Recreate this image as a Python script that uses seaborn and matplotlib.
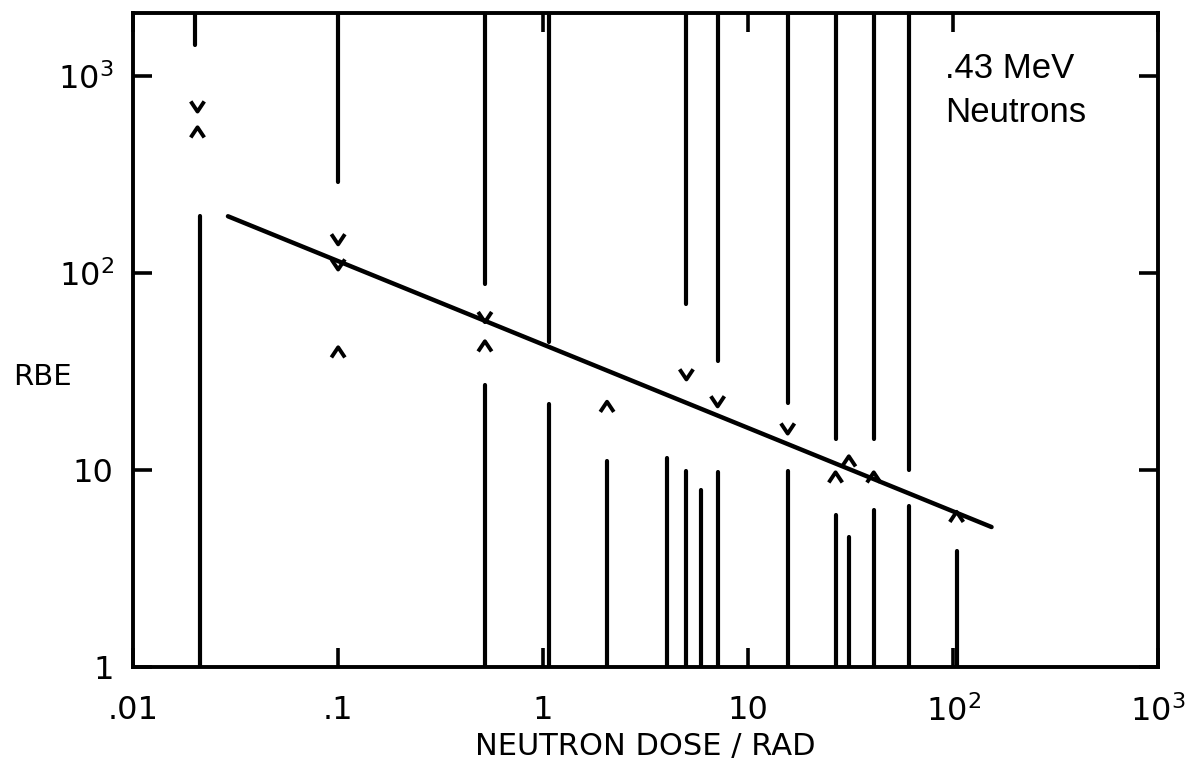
import matplotlib
matplotlib.use("Agg")
import matplotlib.pyplot as plt
from matplotlib.path import Path
import seaborn as sns

# bars hanging down from the top of the frame: dose and the RBE where they stop
upper_dose = [0.02, 0.1, 0.52, 1.07, 5.0, 7.1, 15.6, 26.7, 41, 61]
upper_rbe = [1450, 290, 88, 45, 70, 36, 22, 14.5, 14.4, 10]

# bars rising from RBE = 1: dose and the RBE where they stop
lower_dose = [0.0212, 0.52, 1.07, 2.05, 4.0, 5.0, 5.9, 7.1, 15.6, 26.7, 31, 41, 61, 104]
lower_rbe = [195, 27, 21.6, 11.1, 11.6, 9.9, 7.9, 9.8, 9.9, 5.9, 4.6, 6.3, 6.6, 3.9]

# lower limits (^) and upper limits (v)
min_dose = [0.0206, 0.1, 0.52, 2.05, 26.7, 31, 41, 104]
min_rbe = [520, 39.7, 42.6, 21, 9.2, 11.1, 9.2, 5.8]
max_dose = [0.0206, 0.1, 0.1, 0.52, 5.0, 7.1, 15.6]
max_rbe = [704, 149, 111, 60, 30.7, 22.4, 16.3]

# fitted line
fit_dose = [0.029, 154]
fit_rbe = [195, 5.15]

x_ticks = [0.01, 0.1, 1, 10, 100, 1000]
x_labels = [".01", ".1", "1", "10", r"$\mathregular{10^2}$", r"$\mathregular{10^3}$"]
y_ticks = [1, 10, 100, 1000]
y_labels = ["1", "10", r"$\mathregular{10^2}$", r"$\mathregular{10^3}$"]
x_range = (0.01, 1000)
y_range = (1, 2100)

sns.set_style("ticks")
plt.rcParams["font.family"] = ["DejaVu Sans"]
plt.rcParams["mathtext.fontset"] = "dejavusans"
plt.rcParams["text.color"] = "black"
plt.rcParams["axes.labelcolor"] = "black"

fig = plt.figure(figsize=(11.89, 7.66), dpi=100)
ax = fig.add_axes([0.112, 0.129, 0.862, 0.854])
ax.set_xscale("log")
ax.set_yscale("log")
ax.set_xlim(*x_range)
ax.set_ylim(*y_range)

ax.vlines(upper_dose, upper_rbe, y_range[1], colors="black", lw=3.0, capstyle="round")
ax.vlines(lower_dose, y_range[0], lower_rbe, colors="black", lw=3.0, capstyle="round")

sns.lineplot(x=fit_dose, y=fit_rbe, color="black", lw=3.2, ax=ax,
             solid_capstyle="round")

caret_up = Path([(-1, -0.75), (0, 0.75), (1, -0.75)], [Path.MOVETO, Path.LINETO, Path.LINETO])
caret_down = Path([(-1, 0.75), (0, -0.75), (1, 0.75)], [Path.MOVETO, Path.LINETO, Path.LINETO])
sns.scatterplot(x=min_dose, y=min_rbe, marker=caret_up, s=95, color="black",
                facecolor="none", edgecolor="black", linewidth=2.8, ax=ax, zorder=4)
sns.scatterplot(x=max_dose, y=max_rbe, marker=caret_down, s=95, color="black",
                facecolor="none", edgecolor="black", linewidth=2.8, ax=ax, zorder=4)

ax.set_xticks(x_ticks)
ax.set_xticklabels(x_labels)
ax.set_yticks(y_ticks)
ax.set_yticklabels(y_labels)
ax.minorticks_off()
ax.tick_params(which="major", direction="in", length=14, width=2.6,
               top=True, right=True, labelsize=23, colors="black")
ax.tick_params(axis="y", pad=14)
ax.tick_params(axis="x", pad=20)
for sp in ax.spines.values():
    sp.set_linewidth(2.8)
    sp.set_color("black")

ax.set_xlabel("NEUTRON DOSE / RAD", fontsize=22, labelpad=3)
ax.text(-0.089, 0.443, "RBE", transform=ax.transAxes, ha="center", va="center",
        fontsize=21)
ax.text(0.792, 0.94, ".43 MeV\nNeutrons", transform=ax.transAxes, ha="left",
        va="top", fontsize=25, family=["Liberation Sans", "DejaVu Sans"],
        linespacing=1.42)

fig.savefig("out.png", dpi=100)
